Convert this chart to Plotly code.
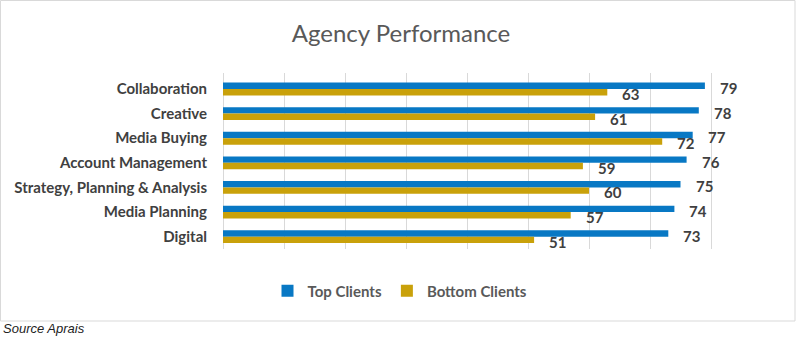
import plotly.graph_objects as go

categories = ["Collaboration", "Creative", "Media Buying", "Account Management",
              "Strategy, Planning & Analysis", "Media Planning", "Digital"]
top_clients = [79, 78, 77, 76, 75, 74, 73]
bottom_clients = [63, 61, 72, 59, 60, 57, 51]

W, H = 796, 341
L, R, T, B = 223, 24, 73, 92
pw = W - L - R
ph = H - T - B

def px(x):
    return (x - L) / pw

def py(y):
    return (H - B - y) / ph

blue = "#0878C4"
gold = "#C9A10A"
txt = "#404040"

fig = go.Figure()
fig.add_trace(go.Bar(y=categories, x=top_clients, name="Top Clients", orientation="h",
                     marker=dict(color=blue, line=dict(width=0))))
fig.add_trace(go.Bar(y=categories, x=bottom_clients, name="Bottom Clients", orientation="h",
                     marker=dict(color=gold, line=dict(width=0))))

annotations = []
for c, v in zip(categories, top_clients):
    annotations.append(dict(x=v, y=c, xref="x", yref="y", text=str(v), showarrow=False,
                            xanchor="left", yanchor="middle", xshift=13, yshift=1,
                            font=dict(family="Lato", size=15, color=txt, weight="bold")))
for c, v in zip(categories, bottom_clients):
    annotations.append(dict(x=v, y=c, xref="x", yref="y", text=str(v), showarrow=False,
                            xanchor="left", yanchor="middle", xshift=13, yshift=-5,
                            font=dict(family="Lato", size=15, color=txt, weight="bold")))
annotations.append(dict(x=px(1), y=py(328), xref="paper", yref="paper", text="<i>Source Aprais</i>",
                        showarrow=False, xanchor="left", yanchor="middle",
                        font=dict(family="Liberation Sans", size=13, color="#222222")))

fig.update_layout(
    width=W, height=H,
    margin=dict(l=L, r=R, t=T, b=B),
    paper_bgcolor="white", plot_bgcolor="white",
    barmode="group", bargap=0.48, bargroupgap=0,
    title=dict(text="Agency Performance", x=401 / W, xref="container", xanchor="center",
               y=1 - 34 / H, yanchor="middle",
               font=dict(family="Lato", size=24, color="#595959")),
    xaxis=dict(range=[0, 90], dtick=10, showticklabels=False, showgrid=True,
               gridcolor="#D9D9D9", gridwidth=1, zeroline=True, zerolinecolor="#D9D9D9",
               zerolinewidth=1, fixedrange=True),
    yaxis=dict(autorange="reversed", showgrid=False, ticks="", ticklabelstandoff=15,
               tickfont=dict(family="Lato", size=15, color=txt, weight="bold")),
    legend=dict(orientation="h", x=px(400), xanchor="center", y=py(291), yanchor="middle",
                font=dict(family="Lato", size=15, color="#595959", weight="bold"),
                itemwidth=30, traceorder="normal"),
    annotations=annotations,
    shapes=[dict(type="rect", xref="paper", yref="paper",
                 x0=px(0.5), x1=px(795), y0=py(321), y1=py(0.5),
                 line=dict(color="#D9D9D9", width=1), fillcolor="rgba(0,0,0,0)", layer="below")],
)

fig.write_html("out.html")
